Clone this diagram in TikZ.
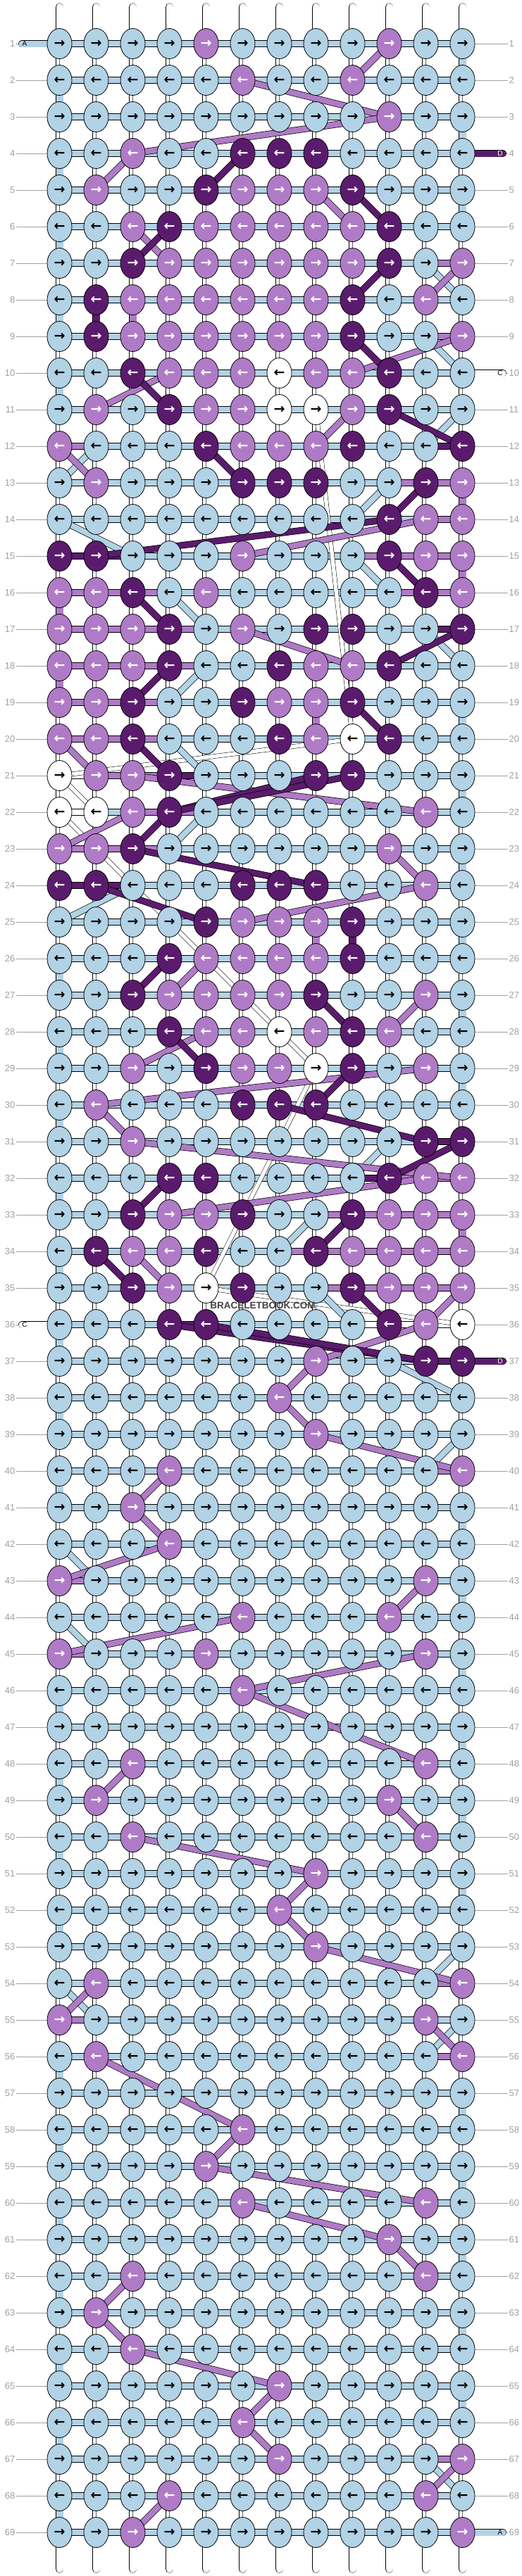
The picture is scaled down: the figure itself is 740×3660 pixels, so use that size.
\documentclass[tikz,border=0pt]{standalone}
\usepackage{fontspec}
\setmainfont{Liberation Sans}
\newfontfamily\arrowfont{DejaVu Sans}
\usetikzlibrary{shapes.geometric}

\definecolor{threadB}{RGB}{178,210,229}
\definecolor{threadP}{RGB}{176,123,198}
\definecolor{threadD}{RGB}{91,27,109}
\definecolor{threadW}{RGB}{255,255,255}
\definecolor{labelgray}{RGB}{160,160,160}

\pgfdeclarelayer{bars}
\pgfdeclarelayer{strands}
\pgfsetlayers{bars,strands,main}

\tikzset{
  knot/.style={ellipse,draw=black,line width=0.8pt,minimum width=35pt,minimum height=43pt,inner sep=0pt,font=\arrowfont\bfseries\fontsize{19}{19}\selectfont},
  knotB/.style={knot,fill=threadB,text=black},
  knotP/.style={knot,fill=threadP,text=white},
  knotD/.style={knot,fill=threadD,text=white},
  knotW/.style={knot,fill=white,text=black},
  bar/.style={draw=black,line width=0.7pt,double=threadB,double distance=8pt},
  stub/.style={draw=black,line width=0.6pt,double=white,double distance=10pt},
  stubmid/.style={draw=black!60,line width=0.4pt},
  stubfill/.style={draw=black,line width=0.6pt,double=thread#1,double distance=10pt},
  strand/.style={draw=black,line width=0.7pt,double distance=8pt},
  endstring/.style={draw=black,line width=0.6pt,double=white,double distance=10pt,line cap=round},
  pill/.style={draw=black,line width=0.6pt,double distance=9pt,line cap=round},
  pilltext/.style={font=\fontsize{10}{10}\selectfont,inner sep=0pt},
  rowlabel/.style={font=\fontsize{13}{13}\selectfont,text=labelgray,inner sep=1.5pt},
  rowline/.style={draw=labelgray,line width=0.8pt},
  brand/.style={font=\bfseries\fontsize{13.5}{13.5}\selectfont,text=black!75,inner sep=0pt}
}

\begin{document}
\begin{tikzpicture}[x=1pt,y=-1pt]
\useasboundingbox (0,0) rectangle (740,3660);

% knots, one row of twelve per line
\foreach \row [count=\r] in {
  {B,B,B,B,P,B,B,B,B,P,B,B},
  {B,B,B,B,B,P,B,B,P,B,B,B},
  {B,B,B,B,B,B,B,B,B,P,B,B},
  {B,B,P,B,B,D,D,D,B,B,B,B},
  {B,P,B,B,D,P,P,P,D,B,B,B},
  {B,B,P,D,P,P,P,P,P,D,B,B},
  {B,B,D,P,P,P,P,P,P,D,B,P},
  {B,D,P,P,P,P,P,P,D,B,P,B},
  {B,D,P,P,P,P,P,P,D,B,B,P},
  {B,B,D,P,P,P,W,P,P,D,B,B},
  {B,P,B,D,P,P,W,W,P,D,B,B},
  {P,B,B,B,D,P,P,P,D,B,B,D},
  {B,P,B,B,B,D,D,D,B,B,D,P},
  {B,B,B,B,B,B,B,B,B,D,P,P},
  {D,D,B,B,B,P,B,B,B,D,P,P},
  {P,P,D,B,P,B,B,B,B,B,D,P},
  {P,P,P,D,B,P,B,D,D,B,B,D},
  {P,P,P,D,B,B,D,P,P,D,B,B},
  {P,P,D,B,B,D,P,P,D,B,B,B},
  {P,P,D,B,B,B,D,P,W,D,B,B},
  {W,P,P,D,B,B,B,D,D,B,B,B},
  {W,W,P,D,B,B,B,B,B,B,P,B},
  {P,P,D,B,B,B,B,B,B,P,B,B},
  {D,D,B,B,B,D,D,D,B,B,P,B},
  {B,B,B,B,D,P,P,P,D,B,B,B},
  {B,B,B,D,P,P,P,P,D,B,B,B},
  {B,B,D,P,P,P,P,D,B,B,P,B},
  {B,B,B,D,P,P,W,P,D,P,B,B},
  {B,B,P,B,D,P,P,W,D,B,P,B},
  {B,P,B,B,B,D,D,D,B,B,B,B},
  {B,B,P,B,B,B,B,B,B,B,D,D},
  {B,B,B,D,D,B,B,B,B,D,P,P},
  {B,B,D,P,P,D,B,B,D,P,P,P},
  {B,D,P,P,D,B,B,D,P,P,P,P},
  {B,B,D,P,W,D,B,B,D,P,P,P},
  {B,B,B,D,D,B,B,B,B,D,P,W},
  {B,B,B,B,B,B,B,P,B,B,D,D},
  {B,B,B,B,B,B,P,B,B,B,B,B},
  {B,B,B,B,B,B,B,P,B,B,B,B},
  {B,B,B,P,B,B,B,B,B,B,B,P},
  {B,B,P,B,B,B,B,B,B,B,B,B},
  {B,B,B,P,B,B,B,B,B,B,B,B},
  {P,B,B,B,B,B,B,B,B,B,P,B},
  {B,B,B,B,B,P,B,B,B,P,B,B},
  {P,B,B,B,P,B,B,B,B,B,P,B},
  {B,B,B,B,B,P,B,B,B,B,B,B},
  {B,B,B,B,B,B,B,B,B,B,B,B},
  {B,B,P,B,B,B,B,B,B,B,P,B},
  {B,P,B,B,B,B,B,B,B,P,B,B},
  {B,B,P,B,B,B,B,B,B,B,P,B},
  {B,B,B,B,B,B,B,P,B,B,B,B},
  {B,B,B,B,B,B,P,B,B,B,B,B},
  {B,B,B,B,B,B,B,P,B,B,B,B},
  {B,P,B,B,B,B,B,B,B,B,B,P},
  {P,B,B,B,B,B,B,B,B,B,P,B},
  {B,P,B,B,B,B,B,B,B,B,B,P},
  {B,B,B,B,B,B,B,B,B,B,B,B},
  {B,B,B,B,B,P,B,B,B,B,B,B},
  {B,B,B,B,P,B,B,B,B,B,B,B},
  {B,B,B,B,B,P,B,B,B,B,P,B},
  {B,B,B,B,B,B,B,B,B,P,B,B},
  {B,B,P,B,B,B,B,B,B,B,P,B},
  {B,P,B,B,B,B,B,B,B,B,B,B},
  {B,B,P,B,B,B,B,B,B,B,B,B},
  {B,B,B,B,B,B,P,B,B,B,B,B},
  {B,B,B,B,B,P,B,B,B,B,B,B},
  {B,B,B,B,B,B,P,B,B,B,B,P},
  {B,B,B,P,B,B,B,B,B,B,P,B},
  {B,B,P,B,B,B,B,B,B,B,B,P}}{
  \foreach \c [count=\i] in \row {
    \node[knot\c] (k-\r-\i) at ({84.5+52*(\i-1)},{62+52*(\r-1)}) {\ifodd\r\relax →\else ←\fi};
    \expandafter\xdef\csname kc-\r-\i\endcsname{\c}
  }
}

% row numbers
\foreach \r in {1,...,69} {
  \node[rowlabel,anchor=east] (labL-\r) at (23,{62+52*(\r-1)}) {\r};
  \node[rowlabel,anchor=west] (labR-\r) at (721,{62+52*(\r-1)}) {\r};
}

\begin{pgfonlayer}{bars}
  \foreach \r in {1,...,69} {
    \draw[rowline] (labL-\r) -- (k-\r-1);
    \draw[rowline] (k-\r-12) -- (labR-\r);
    \draw[bar] (k-\r-1.center) -- (k-\r-12.center);
  }
  \foreach \r/\a/\b/\c in {7/11/12/P, 9/11/12/P, 12/1/2/P, 12/11/12/D, 13/10/12/P, 14/11/12/P,
      15/1/3/D, 15/9/12/P, 16/1/4/P, 16/10/12/P, 17/1/5/P, 17/11/12/D, 18/1/5/P, 19/1/4/P,
      20/1/4/P, 21/1/2/W, 21/2/4/P, 21/4/5/D, 22/1/2/W, 22/3/5/P, 23/1/4/P, 24/1/3/D,
      31/11/12/D, 32/9/10/D, 32/10/12/P, 33/8/12/P, 34/7/12/P, 35/8/12/P, 36/4/5/D, 36/9/12/W,
      37/11/12/D, 40/11/12/P, 43/1/2/P, 45/1/2/P, 54/11/12/P, 55/1/2/P, 56/11/12/P, 67/11/12/P}
    \draw[bar,double=thread\c] (k-\r-\a.center) -- (k-\r-\b.center);

  % threads between rows
  \foreach \r in {1,...,68} {
    \pgfmathtruncatemacro\rr{\r+1}
    \foreach \i in {1,...,12} {
      \edef\upc{\csname kc-\r-\i\endcsname}
      \edef\dnc{\csname kc-\rr-\i\endcsname}
      \pgfmathtruncatemacro\isedge{(\i==1 && iseven(\r)) || (\i==12 && isodd(\r))}
      \ifnum\isedge=1 \ifx\upc\dnc
        \draw[stubfill=\upc] (k-\r-\i.center) -- (k-\rr-\i.center);
      \else
        \draw[stub] (k-\r-\i.center) -- (k-\rr-\i.center);
        \draw[stubmid] (k-\r-\i.center) -- (k-\rr-\i.center);
      \fi\else
        \draw[stub] (k-\r-\i.center) -- (k-\rr-\i.center);
        \draw[stubmid] (k-\r-\i.center) -- (k-\rr-\i.center);
      \fi
    }
  }
  \foreach \r/\i/\c in {8/2/D, 8/3/P, 19/8/P, 25/8/P, 25/9/D} {
    \pgfmathtruncatemacro\rr{\r+1}
    \draw[stubfill=\c] (k-\r-\i.center) -- (k-\rr-\i.center);
  }

  % loose ends top and bottom
  \foreach \i in {1,...,12} {
    \coordinate (top-\i) at ({84.5+52*(\i-1)},10);
    \coordinate (bot-\i) at ({84.5+52*(\i-1)},3650);
    \draw[endstring] (top-\i) -- (k-1-\i.center);
    \draw[endstring] (k-69-\i.center) -- (bot-\i);
  }
\end{pgfonlayer}

\begin{pgfonlayer}{strands}
  % string tags
  \coordinate (endA-top) at (31,62);
  \draw[pill,double=threadB] (endA-top) -- (k-1-1.center);
  \node[pilltext] (tagA-top) at (35,62) {A};
  \coordinate (endD-top) at (714,218);
  \draw[pill,double=threadD] (k-4-12.center) -- (endD-top);
  \node[pilltext,text=white] (tagD-top) at (710,218) {D};
  \coordinate (endC-top) at (714,530);
  \draw[pill,double=white] (k-10-12.center) -- (endC-top);
  \node[pilltext] (tagC-top) at (710,530) {C};
  \coordinate (endC-bot) at (31,1882);
  \draw[pill,double=white] (endC-bot) -- (k-36-1.center);
  \node[pilltext] (tagC-bot) at (35,1882) {C};
  \coordinate (endD-bot) at (714,1934);
  \draw[pill,double=threadD] (k-37-12.center) -- (endD-bot);
  \node[pilltext,text=white] (tagD-bot) at (710,1934) {D};
  \coordinate (endA-bot) at (714,3598);
  \draw[pill,double=threadB] (k-69-12.center) -- (endA-bot);
  \node[pilltext] (tagA-bot) at (710,3598) {A};

  \begin{scope}[every edge/.style={strand,double=white,double distance=5.5pt,line width=0.5pt}]
    \foreach \a/\b/\c/\d in {11/8/20/9, 20/9/21/1, 21/1/22/2, 22/1/28/7, 28/7/29/8, 29/8/35/5, 35/5/36/12}
      \path (k-\a-\b.center) edge (k-\c-\d.center);
  \end{scope}
  \begin{scope}[every edge/.style={strand,double=threadB}]
    \foreach \a/\b/\c/\d in {7/11/8/12, 9/11/10/12, 11/12/12/11, 12/2/13/1, 13/10/14/9, 14/1/15/3,
        15/9/16/10, 16/4/17/5, 17/11/18/12, 18/5/19/4, 20/4/21/5, 22/5/23/4, 24/3/25/1,
        31/10/32/9, 33/8/34/7, 35/8/36/9, 37/10/38/12, 39/12/40/11, 42/1/43/2, 44/1/45/2,
        53/12/54/11, 54/1/55/2, 55/12/56/11, 67/11/68/12}
      \path (k-\a-\b.center) edge (k-\c-\d.center);
  \end{scope}
  \begin{scope}[every edge/.style={strand,double=threadP}]
    \foreach \a/\b/\c/\d in {1/10/2/9, 2/6/3/10, 3/10/4/3, 4/3/5/2, 5/8/6/9, 6/3/7/4, 7/12/8/11,
        9/12/10/9, 10/4/11/2, 11/9/12/8, 12/1/13/2, 14/11/15/6, 17/6/18/9, 20/1/21/2,
        21/3/22/11, 22/3/23/1, 23/10/24/11, 24/11/25/6, 26/5/27/4, 27/11/28/10, 28/5/29/3,
        29/11/30/2, 30/2/31/3, 31/3/32/12, 32/11/33/4, 34/3/35/4, 35/12/36/11, 36/11/37/8,
        37/8/38/7, 38/7/39/8, 39/8/40/12, 40/4/41/3, 41/3/42/4, 42/4/43/1, 43/11/44/10,
        44/6/45/1, 45/11/46/6, 46/6/48/11, 48/3/49/2, 49/10/50/11, 50/3/51/8, 51/8/52/7,
        52/7/53/8, 53/8/54/12, 54/2/55/1, 55/11/56/12, 56/2/58/6, 58/6/59/5, 59/5/60/11,
        60/6/61/10, 61/10/62/11, 62/3/63/2, 63/2/64/3, 64/3/65/7, 65/7/66/6, 66/6/67/7,
        67/12/68/11, 68/4/69/3}
      \path (k-\a-\b.center) edge (k-\c-\d.center);
  \end{scope}
  \begin{scope}[every edge/.style={strand,double=threadD}]
    \foreach \a/\b/\c/\d in {4/6/5/5, 5/9/6/10, 6/4/7/3, 7/10/8/9, 9/9/10/10, 10/3/11/4,
        11/10/12/12, 12/5/13/6, 13/11/14/10, 14/10/15/2, 15/10/16/11, 16/3/17/4, 17/12/18/10,
        18/4/19/3, 19/9/20/10, 20/3/21/4, 21/8/22/4, 21/9/22/4, 22/4/23/3, 23/3/24/8,
        24/2/25/5, 26/4/27/3, 27/8/28/9, 28/4/29/5, 29/9/30/8, 30/7/31/11, 31/12/32/10,
        32/4/33/3, 33/9/34/8, 34/2/35/3, 35/9/36/10, 36/4/37/11, 36/5/37/11}
      \path (k-\a-\b.center) edge (k-\c-\d.center);
  \end{scope}
\end{pgfonlayer}

\node[brand] (brand) at (373,1855) {BRACELETBOOK.COM};
\end{tikzpicture}
\end{document}
